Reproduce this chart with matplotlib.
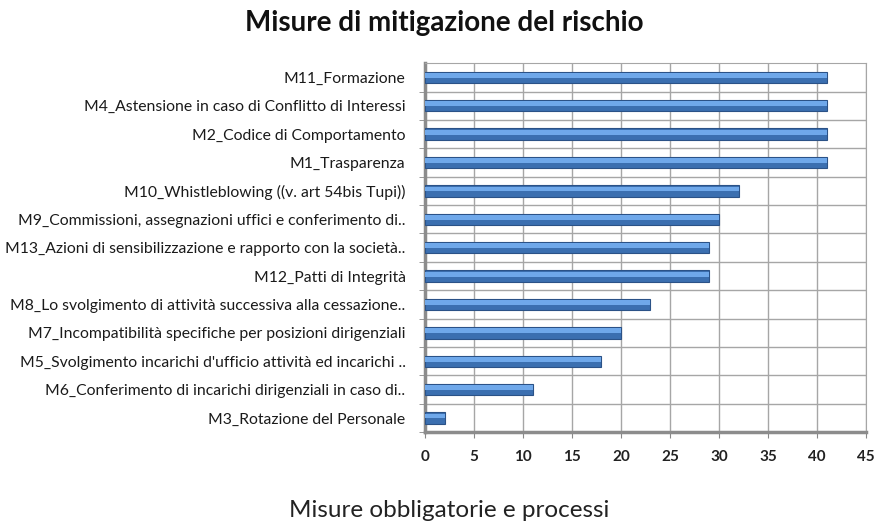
import matplotlib.pyplot as plt
import numpy as np

# === Data ===
labels = [
    "M11_Formazione",
    "M4_Astensione in caso di Conflitto di Interessi",
    "M2_Codice di Comportamento",
    "M1_Trasparenza",
    "M10_Whistleblowing ((v. art 54bis Tupi))",
    "M9_Commissioni, assegnazioni uffici e conferimento di..",
    "M13_Azioni di sensibilizzazione e rapporto con la società..",
    "M12_Patti di Integrità",
    "M8_Lo svolgimento di attività successiva alla cessazione..",
    "M7_Incompatibilità specifiche per posizioni dirigenziali",
    "M5_Svolgimento incarichi d'ufficio attività ed incarichi ..",
    "M6_Conferimento di incarichi dirigenziali in caso di..",
    "M3_Rotazione del Personale",
]
values = [41, 41, 41, 41, 32, 30, 29, 29, 23, 20, 18, 11, 2]
xticks = [0, 5, 10, 15, 20, 25, 30, 35, 40, 45]

plt.rcParams["font.family"] = ["Lato", "DejaVu Sans"]

fig = plt.figure(figsize=(8.8, 5.22), dpi=100)
ax = fig.add_axes([0.483, 0.172, 0.501, 0.707])

y = np.arange(len(labels))[::-1]

# bar body + lighter highlight to hint at the 3D shading
ax.barh(y, values, height=0.4, color="#3b6fb0", edgecolor="#2b5287", linewidth=0.8, zorder=3)
ax.barh(y + 0.07, values, height=0.17, color="#6fa8ea", linewidth=0, zorder=4)

ax.set_xlim(0, 45)
ax.set_ylim(-0.5, len(labels) - 0.5)
ax.set_xticks(xticks)
ax.set_yticks(y)
ax.set_yticklabels(labels, fontsize=11.3, color="#1a1a1a")
ax.tick_params(axis="y", length=0, pad=14)
ax.tick_params(axis="x", length=4, color="#888888", labelsize=11, pad=9)
for t in ax.get_xticklabels():
    t.set_fontweight("bold")
    t.set_color("#222222")

# grid: vertical at ticks, horizontal between categories
ax.set_yticks(np.arange(len(labels)) - 0.5, minor=True)
ax.tick_params(axis="y", which="minor", length=4, color="#888888")
ax.grid(axis="x", color="#a6a6a6", linewidth=1, zorder=0)
ax.grid(axis="y", which="minor", color="#a6a6a6", linewidth=1, zorder=0)

for s in ["top", "right"]:
    ax.spines[s].set_color("#a6a6a6")
ax.spines["left"].set_color("#8c8c8c")
ax.spines["left"].set_linewidth(2.5)
ax.spines["bottom"].set_color("#8c8c8c")
ax.spines["bottom"].set_linewidth(2.5)

fig.text(0.505, 0.955, "Misure di mitigazione del rischio", ha="center", va="center",
         fontsize=20, fontweight="bold", color="#111111")
fig.text(0.51, 0.022, "Misure obbligatorie e processi", ha="center", va="center",
         fontsize=17.5, color="#222222")

plt.savefig("out.png", dpi=100)
